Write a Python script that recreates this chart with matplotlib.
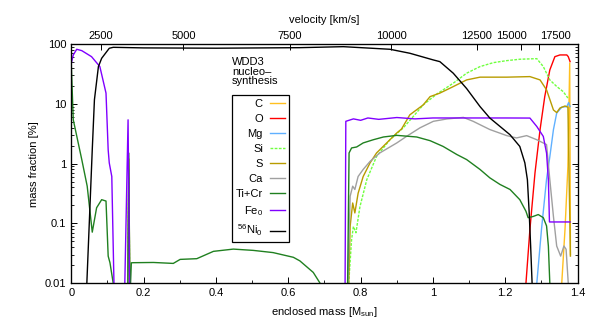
import numpy as np
import matplotlib
matplotlib.use('Agg')
import matplotlib.pyplot as plt
import matplotlib.transforms as mtransforms

plt.rcParams['font.family'] = ['Liberation Sans', 'DejaVu Sans']
plt.rcParams['mathtext.fontset'] = 'custom'
plt.rcParams['mathtext.rm'] = 'Liberation Sans'
plt.rcParams['mathtext.it'] = 'Liberation Sans:italic'
plt.rcParams['font.size'] = 8

nan = np.nan

# enclosed mass [Msun] / mass fraction [%]
c_m  = [1.355, 1.365, 1.373, 1.378, 1.380]
c_v  = [0.008, 0.08, 0.9, 48, 0.03]

o_m  = [1.257, 1.268, 1.282, 1.296, 1.309, 1.323, 1.337, 1.351, 1.370, 1.374, 1.379]
o_v  = [0.01, 0.08, 0.70, 3.7, 13.2, 36.8, 61.4, 65.6, 65.6, 61.4, 50.7]

mg_m = [1.287, 1.300, 1.314, 1.323, 1.333, 1.342, 1.356, 1.370, 1.375, 1.379]
mg_v = [0.01, 0.08, 0.55, 1.3, 3.7, 7.0, 8.8, 9.0, 10.5, 9.0]

si_m = [0.156, 0.159, 0.162, nan, 0.767, 0.775, 0.780, 0.787, 0.798, 0.817, 0.844, 0.881,
        0.918, 0.946, 0.973, 1.010, 1.056, 1.093, 1.130, 1.167, 1.204, 1.240, 1.287,
        1.305, 1.323, 1.342, 1.360, 1.373]
si_v = [0.005, 0.6, 0.005, nan, 0.01, 0.054, 0.089, 0.07, 0.19, 0.54, 1.32, 2.51,
        3.97, 6.2, 9.6, 14.5, 22.1, 32.5, 41.9, 48.8, 52.7, 55.6, 56.9,
        41.9, 25.1, 19.5, 16.0, 12.5]

s_m  = [0.156, 0.159, 0.162, nan, 0.767, 0.771, 0.778, 0.784, 0.793, 0.807, 0.826, 0.844,
        0.872, 0.900, 0.913, 0.936, 0.973, 0.992, 1.019, 1.056, 1.093, 1.130, 1.204,
        1.268, 1.296, 1.314, 1.333, 1.342, 1.351, 1.365, 1.373, 1.380]
s_v  = [0.005, 1.2, 0.005, nan, 0.01, 0.09, 0.22, 0.15, 0.32, 0.61, 1.03, 1.51,
        2.22, 3.26, 3.79, 6.55, 9.6, 13.2, 15.1, 19.4, 25.1, 27.9, 27.9,
        28.5, 25.1, 17.1, 7.9, 7.14, 8.5, 9.2, 8.8, 0.0285]

ca_m = [0.156, 0.159, 0.162, nan, 0.765, 0.771, 0.778, 0.784, 0.793, 0.807, 0.826, 0.853,
        0.900, 0.927, 0.964, 1.001, 1.038, 1.084, 1.111, 1.157, 1.204, 1.231, 1.259,
        1.287, 1.314, 1.323, 1.333, 1.342, 1.353, 1.362, 1.368, 1.374]
ca_v = [0.005, 0.8, 0.005, nan, 0.01, 0.286, 0.42, 0.37, 0.61, 0.80, 1.09, 1.51,
        2.22, 2.86, 3.97, 5.1, 5.58, 5.93, 5.1, 3.72, 2.94, 2.69, 2.94,
        2.51, 2.08, 0.54, 0.131, 0.042, 0.0285, 0.042, 0.037, 0.01]

ti_m = [0.0, 0.0055, 0.029, 0.044, 0.058, 0.070, 0.084, 0.096, 0.102, 0.107, 0.116, nan,
        0.156, 0.159, 0.162, 0.166, 0.171, 0.227, 0.282, 0.301, 0.347, 0.393, 0.448, 0.503,
        0.558, 0.614, 0.632, 0.669, 0.688, nan, 0.764, 0.768, 0.775, 0.789, 0.807, 0.835,
        0.863, 0.900, 0.955, 0.992, 1.028, 1.066, 1.093, 1.130, 1.157, 1.185, 1.213,
        1.240, 1.257, 1.263, 1.277, 1.291, 1.305, 1.314, 1.319, 1.323]
ti_v = [45, 5.41, 1.17, 0.42, 0.0716, 0.183, 0.25, 0.237, 0.0285, 0.022, 0.01, nan,
        0.005, 1.5, 0.005, 0.022, 0.0221, 0.0223, 0.0215, 0.0251, 0.0258, 0.0342, 0.0373, 0.0355,
        0.0326, 0.0272, 0.0237, 0.0152, 0.01, nan, 0.01, 1.51, 1.83, 1.9, 2.22, 2.51,
        2.79, 2.97, 2.79, 2.42, 1.94, 1.42, 1.17, 0.80, 0.58, 0.45, 0.37,
        0.25, 0.16, 0.125, 0.131, 0.141, 0.125, 0.091, 0.042, 0.01]

fe_m = [0.0, 0.0055, 0.015, 0.029, 0.056, 0.079, 0.096, 0.102, 0.105, 0.112, 0.118, nan,
        0.148, 0.157, 0.161, nan, 0.757, 0.759, 0.78, 0.80, 0.82, 0.85, 0.90, 0.95,
        1.00, 1.10, 1.20, 1.268, 1.287, 1.305, 1.314, 1.319, 1.322, 1.379]
fe_v = [47.6, 65.6, 81.6, 77.4, 61.4, 41.9, 15.1, 1.7, 1.03, 0.61, 0.01, nan,
        0.01, 5.4, 0.01, nan, 0.01, 5.1, 5.6, 5.3, 5.8, 5.5, 5.9, 5.6,
        5.8, 5.8, 5.8, 5.78, 4.18, 2.85, 1.5, 0.54, 0.106, 0.106]

ni_m = [0.043, 0.058, 0.064, 0.075, 0.084, 0.105, 0.116, 0.2, 0.4, 0.632, 0.752, 0.881,
        0.936, 1.001, 1.019, 1.056, 1.093, 1.130, 1.157, 1.185, 1.213, 1.240, 1.254,
        1.261, 1.266, 1.270, 1.274]
ni_v = [0.01, 1.71, 11.7, 41.9, 57.7, 84.8, 88, 86, 85, 86.8, 90.2, 81.6,
        70, 54.1, 50.7, 32.5, 18, 9.0, 5.8, 4.2, 3.04, 1.94, 1.03,
        0.54, 0.15, 0.042, 0.01]

species = ['C', 'O', 'Mg', 'Si', 'S', 'Ca', 'Ti+Cr', 'Fe$_0$', '$^{56}$Ni$_0$']
colors  = ['#ffc020', '#ff0000', '#60b0ff', '#70ff40', '#b89c00', '#a0a0a0', '#208020',
           '#8000ff', '#000000']
masses  = [c_m, o_m, mg_m, si_m, s_m, ca_m, ti_m, fe_m, ni_m]
values  = [c_v, o_v, mg_v, si_v, s_v, ca_v, ti_v, fe_v, ni_v]

# top axis: velocity [km/s] at enclosed mass
vel_labels = ['2500', '5000', '7500', '10000', '12500', '15000', '17500']
vel_mass   = [0.081, 0.310, 0.605, 0.884, 1.121, 1.243, 1.294]

fig = plt.figure(figsize=(5.98, 3.30), dpi=100)
ax = fig.add_axes([0.1192, 0.1415, 0.8468, 0.7252])

for name, col, m, v in zip(species, colors, masses, values):
    ls = (0, (2, 1)) if name == 'Si' else '-'
    ax.plot(m, v, color=col, lw=1.0, ls=ls, label=name)

ax.set_yscale('log')
ax.set_xlim(0, 1.4)
ax.set_ylim(0.01, 100)
ax.set_yticks([0.01, 0.1, 1, 10, 100])
ax.set_yticklabels(['0.01', '0.1', '1', '10', '100'])
ax.set_xticks([0, 0.2, 0.4, 0.6, 0.8, 1.0, 1.2, 1.4])
ax.set_xticklabels(['0', '0.2', '0.4', '0.6', '0.8', '1', '1.2', '1.4'])
ax.set_xticks(np.arange(0.1, 1.4, 0.2), minor=True)
ax.tick_params(which='both', direction='in', right=True, top=False)
ax.tick_params(which='major', length=4, width=0.7)
ax.tick_params(which='minor', length=2, width=0.6)
ax.set_xlabel('enclosed mass [M$_\\mathrm{sun}$]', labelpad=5)
ax.set_ylabel('mass fraction [%]', labelpad=4)
for sp in ax.spines.values():
    sp.set_linewidth(0.9)

ax2 = ax.twiny()
ax2.set_xlim(ax.get_xlim())
ax2.set_xticks(vel_mass)
ax2.set_xticklabels(vel_labels)
ax2.tick_params(direction='in', length=4, width=0.7, pad=2)
ax2.set_xlabel('velocity [km/s]', labelpad=6)
# gnuplot-style nudged labels for the two crowded ticks
tl = ax2.get_xticklabels()
for lab, dx in [(tl[5], -9), (tl[6], 16)]:
    lab.set_transform(lab.get_transform() +
                      mtransforms.ScaledTranslation(dx / 100, 0, fig.dpi_scale_trans))

ax.text(0.317, 0.945, 'WDD3\nnucleo\u2013\nsynthesis', transform=ax.transAxes,
        ha='left', va='top', linespacing=0.95)
leg = ax.legend(loc='upper left', bbox_to_anchor=(0.317, 0.787), markerfirst=False,
                fancybox=False, framealpha=1, edgecolor='black', borderaxespad=0,
                handlelength=1.4, handletextpad=0.6, labelspacing=0.45, borderpad=0.35)
leg.get_frame().set_linewidth(0.9)

fig.savefig('out.png', dpi=100)
